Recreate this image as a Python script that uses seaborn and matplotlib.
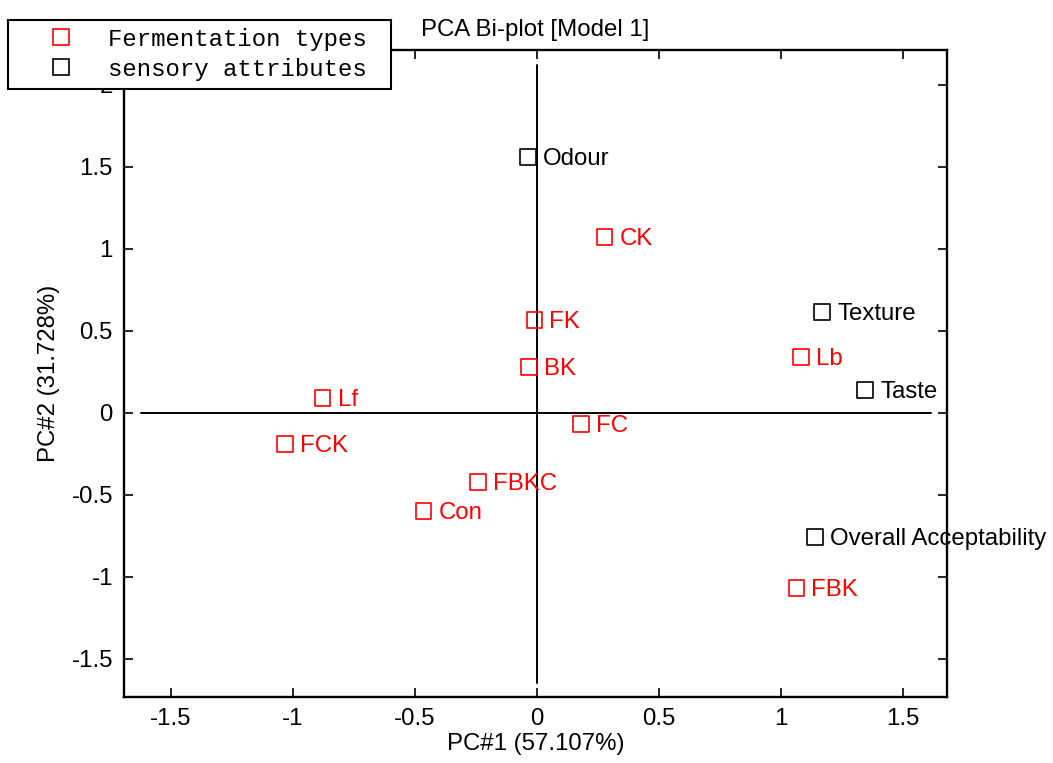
import matplotlib
matplotlib.use("Agg")
import matplotlib.pyplot as plt
import pandas as pd
import seaborn as sns
from matplotlib.lines import Line2D

# ---- data ----
ferm_names = ["CK", "FK", "BK", "Lf", "FCK", "FC", "FBKC", "Con", "Lb", "FBK"]
ferm_pc1 = [0.277, -0.010, -0.031, -0.877, -1.031, 0.182, -0.240, -0.465, 1.084, 1.064]
ferm_pc2 = [1.073, 0.567, 0.280, 0.091, -0.189, -0.067, -0.421, -0.598, 0.341, -1.067]

attr_names = ["Odour", "Texture", "Taste", "Overall Acceptability"]
attr_pc1 = [-0.035, 1.170, 1.346, 1.141]
attr_pc2 = [1.561, 0.616, 0.140, -0.756]

group_labels = ["Fermentation types", "sensory attributes"]
group_colors = ["#ff0000", "#000000"]

xticks = [-1.5, -1, -0.5, 0, 0.5, 1, 1.5]
xtick_labels = ["-1.5", "-1", "-0.5", "0", "0.5", "1", "1.5"]
yticks = [-1.5, -1, -0.5, 0, 0.5, 1, 1.5, 2]
ytick_labels = ["-1.5", "-1", "-0.5", "0", "0.5", "1", "1.5", "2"]

title = "PCA Bi-plot [Model 1]"
xlabel = "PC#1 (57.107%)"
ylabel = "PC#2 (31.728%)"

# ---- build frame ----
df = pd.DataFrame({
    "name": ferm_names + attr_names,
    "pc1": ferm_pc1 + attr_pc1,
    "pc2": ferm_pc2 + attr_pc2,
    "group": [group_labels[0]] * len(ferm_names) + [group_labels[1]] * len(attr_names),
})
palette = dict(zip(group_labels, group_colors))

sns.set_style("ticks")
plt.rcParams["font.family"] = ["Liberation Sans", "DejaVu Sans"]
plt.rcParams["axes.unicode_minus"] = False
plt.rcParams["text.color"] = "black"
plt.rcParams["axes.labelcolor"] = "black"
plt.rcParams["xtick.color"] = "black"
plt.rcParams["ytick.color"] = "black"

FS = 17.3
fig = plt.figure(figsize=(10.53, 7.63), dpi=100)
ax = fig.add_axes([124 / 1053, 1 - 697 / 763, (947 - 124) / 1053, (697 - 50) / 763])

sns.scatterplot(data=df, x="pc1", y="pc2", hue="group", palette=palette,
                marker="s", s=120, linewidth=1.2, legend=False, ax=ax, zorder=3)
for coll in ax.collections:
    fc = coll.get_facecolors()
    coll.set_edgecolors(fc)
    coll.set_facecolors("none")

for _, r in df.iterrows():
    ax.annotate(r["name"], (r["pc1"], r["pc2"]), xytext=(11, -1.2),
                textcoords="offset points", va="center", ha="left",
                color=palette[r["group"]], fontsize=FS, zorder=4)

ax.set_xlim(-1.691, 1.682)
ax.set_ylim(-1.732, 2.213)

ax.axhline(0, xmin=0.0207, xmax=0.9806, color="k", lw=1.4, zorder=1)
ax.axvline(0, ymin=0.0216, ymax=0.977, color="k", lw=1.4, zorder=1)

ax.set_xticks(xticks)
ax.set_xticklabels(xtick_labels)
ax.set_yticks(yticks)
ax.set_yticklabels(ytick_labels)
ax.tick_params(direction="in", length=6.5, width=1.2, top=True, right=True,
               labelsize=FS, pad=8, colors="k")
for sp in ax.spines.values():
    sp.set_linewidth(1.7)
    sp.set_color("k")
ax.grid(False)

ax.set_title(title, fontsize=FS, pad=10, color="k")
ax.set_xlabel(xlabel, fontsize=FS, labelpad=2, color="k")
ax.set_ylabel(ylabel, fontsize=FS, labelpad=8, color="k")

handles = [Line2D([], [], marker="s", ls="none", mfc="none", mec=c, ms=11, mew=1.2, label=l)
           for l, c in zip(group_labels, group_colors)]
leg = fig.legend(handles=handles, loc="upper left",
                 bbox_to_anchor=(8 / 1053, 1 - 20 / 763 - 69 / 763, 383 / 1053, 69 / 763),
                 mode="expand", prop={"family": "Liberation Mono", "size": FS},
                 frameon=True, fancybox=False, edgecolor="k", framealpha=1,
                 borderpad=0.32, labelspacing=0.3, handlelength=3.8,
                 handletextpad=0.05, borderaxespad=0)
leg.get_frame().set_linewidth(1.5)
for t in leg.get_texts():
    t.set_color("k")

fig.savefig("out.png", dpi=100)
